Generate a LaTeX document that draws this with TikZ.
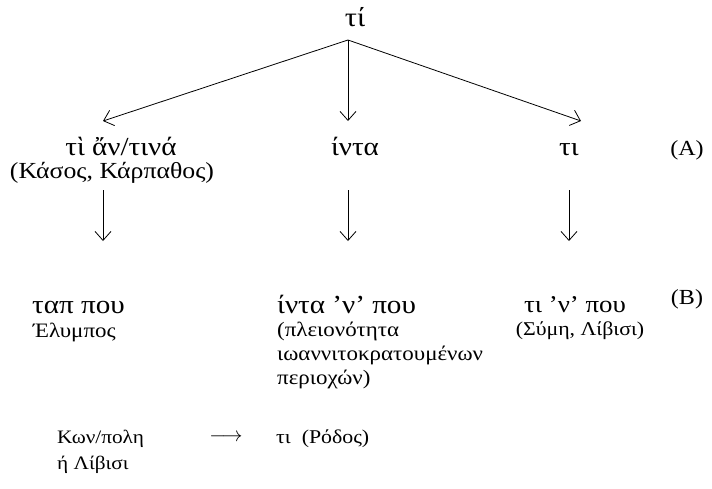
\documentclass[tikz,border=0pt]{standalone}
\usepackage{fontspec}
\setmainfont[FakeStretch=1.12]{Liberation Serif}
\usetikzlibrary{arrows.meta}
\newcommand{\fs}[1]{\fontsize{#1}{24}\selectfont}
\tikzset{
  lbl/.style={inner sep=0pt, anchor=base, font=\fs{26}},
  sub/.style={inner sep=0pt, anchor=base, font=\fs{20.5}},
  link/.style={line width=0.8pt, -{Straight Barb[length=9pt,width=16pt,line width=0.8pt]}},
}
\begin{document}
\begin{tikzpicture}[x=1pt,y=-1pt]
  \useasboundingbox (0,0) rectangle (712,488);
  % root
  \node[lbl, font=\fs{27}] (root) at (355,26) {τί};
  \coordinate (fork) at (348,40);
  % level A
  \node[lbl] (a1) at (121,155) {τὶ ἄν/τινά};
  \node[sub, font=\fs{23}] (a1s) at (112,178) {(Κάσος, Κάρπαθος)};
  \node[lbl] (a2) at (355,155) {ίντα};
  \node[lbl] (a3) at (569,155) {τι};
  \node[sub, font=\fs{21.5}] (la) at (687,155) {(A)};
  \coordinate (a1t) at (103,121);
  \coordinate (a2t) at (348,121);
  \coordinate (a3t) at (581,121);
  \draw[link] (fork) -- (a1t);
  \draw[link] (fork) -- (a2t);
  \draw[link] (fork) -- (a3t);
  % level B
  \node[lbl, anchor=base west] (b1) at (32,313) {ταπ που};
  \node[sub, anchor=base west] (b1s) at (33,337) {Έλυμπος};
  \node[lbl, anchor=base west] (b2) at (277,313) {ίντα ’ν’ που};
  \node[sub, anchor=north west, align=left] (b2s) at (277,322)
    {(πλειονότητα\\ιωαννιτοκρατουμένων\\περιοχών)};
  \node[lbl, font=\fs{24}] (b3) at (575,312) {τι ’ν’ που};
  \node[sub, font=\fs{19.5}] (b3s) at (580,335) {(Σύμη, Λίβισι)};
  \node[sub, font=\fs{21.5}] (lb) at (687,304) {(B)};
  \coordinate (v1a) at (103,190); \coordinate (v1b) at (103,241);
  \coordinate (v2a) at (348,190); \coordinate (v2b) at (348,241);
  \coordinate (v3a) at (569,190); \coordinate (v3b) at (569,241);
  \draw[link] (v1a) -- (v1b);
  \draw[link] (v2a) -- (v2b);
  \draw[link] (v3a) -- (v3b);
  % bottom line
  \node[sub, font=\fs{19}, anchor=base west] (c1) at (57,443) {Κων/πολη};
  \node[sub, font=\fs{19}, anchor=base west] (c1s) at (57,469) {ή Λίβισι};
  \node[sub, font=\fs{22}, anchor=center] (arr) at (226,438) {$\longrightarrow$};
  \node[sub, font=\fs{19.5}, anchor=base west] (c2) at (276,443) {τι\ \ (Ρόδος)};
\end{tikzpicture}
\end{document}
